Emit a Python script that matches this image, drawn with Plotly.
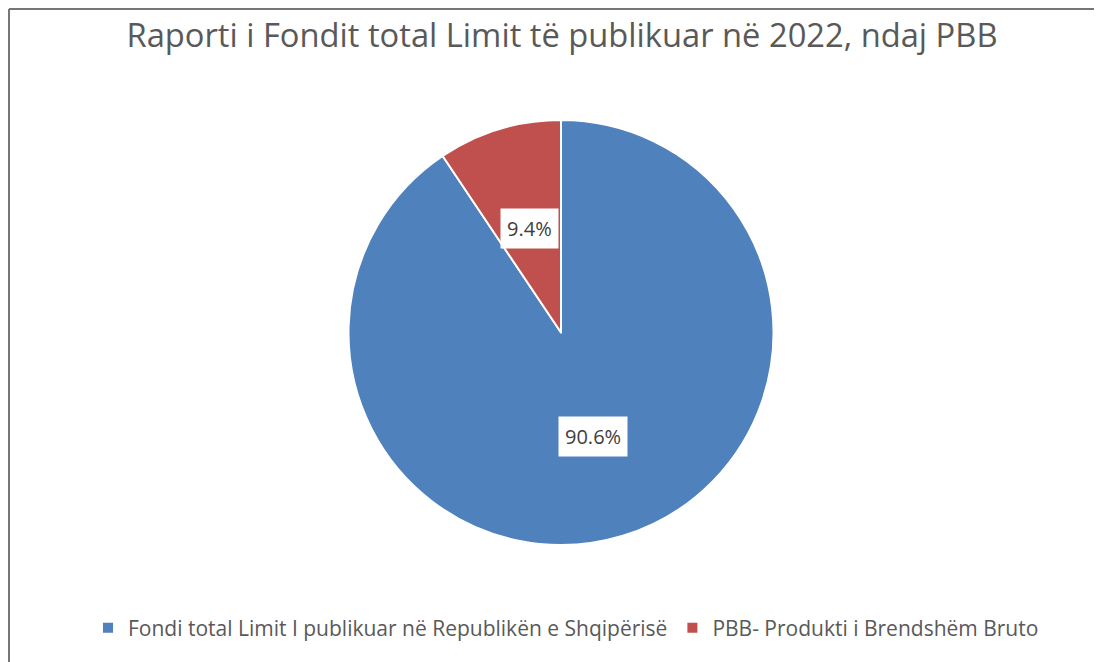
import math
import plotly.graph_objects as go

# --- DATA ---
labels = ["Fondi total Limit I publikuar në Republikën e Shqipërisë",
          "PBB- Produkti i Brendshëm Bruto"]
values = [90.6, 9.4]
colors = ["#4F81BD", "#C0504D"]
title_text = "Raporti i Fondit total Limit të publikuar në 2022, ndaj PBB"

# --- LAYOUT (pixels of the page; the page body adds an 8px offset) ---
W, H = 1102, 662
OFF = 8
cx, cy, r = 561, 332.5, 212.5


def px2x(px):
    return (px - OFF) / W


def py2y(py):
    return 1 - (py - OFF) / H


fig = go.Figure()
fig.add_trace(go.Pie(
    labels=labels, values=values, sort=False, direction="clockwise", rotation=0,
    marker=dict(colors=colors, line=dict(color="white", width=2)),
    textinfo="none", hoverinfo="label+percent",
    domain=dict(x=[px2x(cx - r), px2x(cx + r)], y=[py2y(cy + r), py2y(cy - r)]),
))

# data labels in white boxes, halfway out along each slice's middle angle
total = sum(values)
cum = 0
for v in values:
    mid = (cum + v / 2) / total * 2 * math.pi
    cum += v
    lx = cx + 0.51 * r * math.sin(mid)
    ly = cy - 0.51 * r * math.cos(mid)
    fig.add_annotation(
        x=px2x(lx), y=py2y(ly), xref="paper", yref="paper",
        text=f"{v / total * 100:.1f}%", showarrow=False,
        font=dict(family="Open Sans", size=20, color="#404040"),
        bgcolor="white", borderpad=6,
    )

# chart border (top and left edges visible), at the figure's own edge
fig.add_shape(type="line", xref="paper", yref="paper",
              x0=px2x(9), x1=1.01, y0=py2y(9), y1=py2y(9),
              line=dict(color="#767676", width=2))
fig.add_shape(type="line", xref="paper", yref="paper",
              x0=px2x(9), x1=px2x(9), y0=-0.01, y1=py2y(9),
              line=dict(color="#767676", width=2))

fig.update_layout(
    width=W, height=H,
    margin=dict(l=0, r=0, t=0, b=0),
    paper_bgcolor="white",
    title=dict(text=title_text, x=px2x(562), xanchor="center", y=py2y(36), yanchor="middle",
               font=dict(family="Open Sans", size=32.7, color="#595959")),
    legend=dict(orientation="h", x=px2x(566), xanchor="center", y=py2y(628), yanchor="middle",
                font=dict(family="Open Sans", size=21, color="#595959"),
                itemwidth=30),
)
fig.write_html("out.html")
